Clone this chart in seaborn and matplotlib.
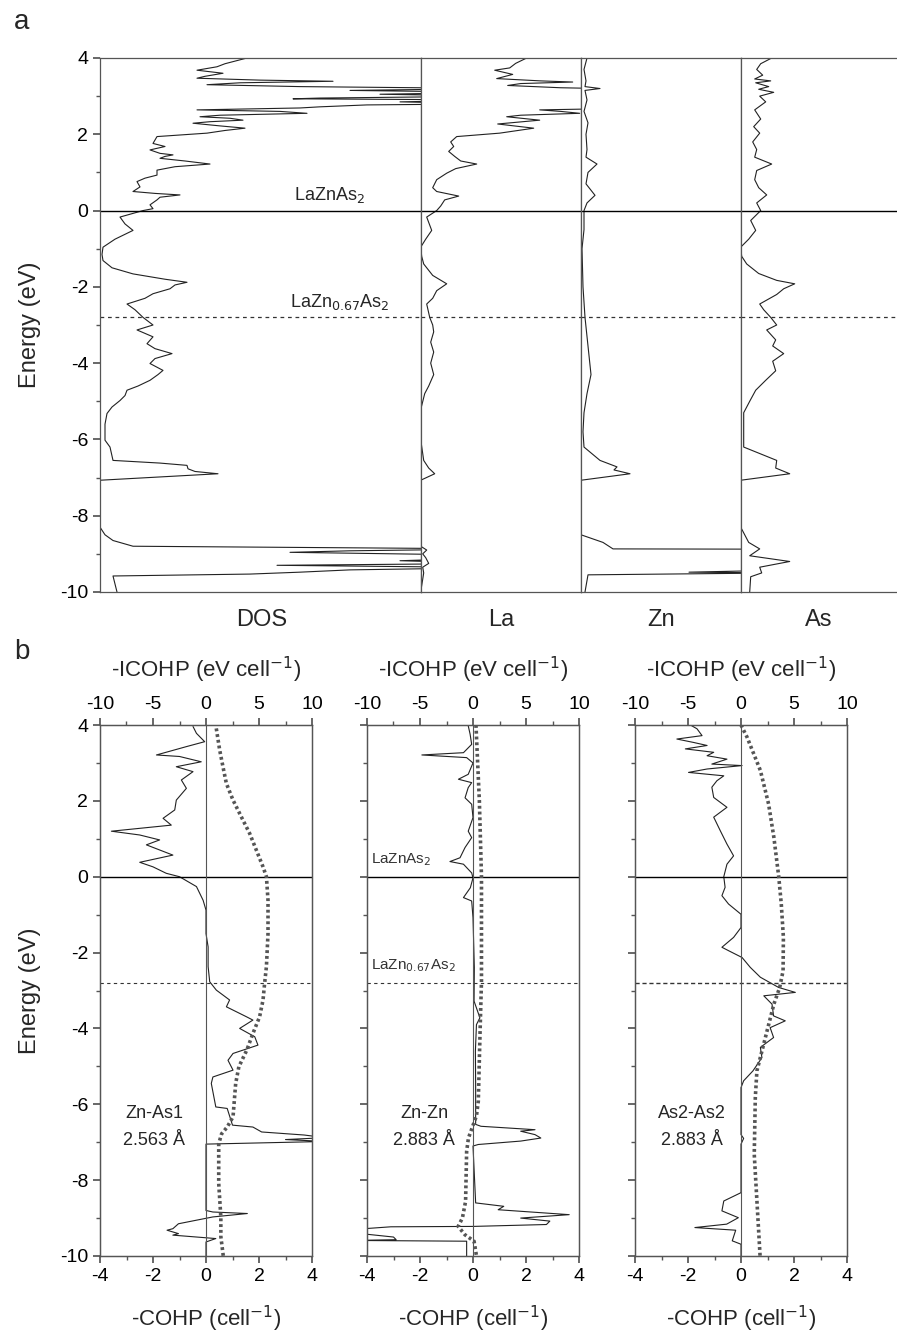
import matplotlib
matplotlib.use("Agg")
import matplotlib.pyplot as plt
import seaborn as sns
from matplotlib.ticker import MultipleLocator

# ---- panel a: total and partial DOS (arbitrary units) ----
dos_e = [4.0, 3.85, 3.77, 3.68, 3.6, 3.52, 3.47, 3.42, 3.39, 3.35, 3.3, 3.25, 3.2, 3.15, 3.1, 3.05,
         3.0, 2.95, 2.93, 2.9, 2.85, 2.8, 2.77, 2.72, 2.69, 2.64, 2.6, 2.55, 2.5, 2.46, 2.42, 2.37,
         2.33, 2.29, 2.22, 2.16, 2.1, 2.03, 1.94, 1.85, 1.76, 1.68, 1.59, 1.5, 1.46, 1.42, 1.37,
         1.3, 1.22, 1.15, 1.06, 0.93, 0.85, 0.76, 0.62, 0.5, 0.45, 0.41, 0.35, 0.28, 0.15, 0.05,
         0.0, -0.17, -0.35, -0.52, -0.75, -0.96, -1.15, -1.31, -1.5, -1.66, -1.8, -1.88, -1.95,
         -2.05, -2.18, -2.3, -2.45, -2.6, -2.8, -3.0, -3.13, -3.31, -3.49, -3.62, -3.75, -3.88,
         -4.01, -4.19, -4.3, -4.45, -4.6, -4.71, -4.85, -4.98, -5.15, -5.32, -5.6, -6.02, -6.2,
         -6.55, -6.62, -6.68, -6.77, -6.84, -6.9, -7.07, -7.5, -8.0, -8.3, -8.5, -8.65, -8.8,
         -8.87, -8.92, -8.96, -9.02, -9.1, -9.18, -9.25, -9.3, -9.36, -9.42, -9.48, -9.53,
         -9.58, -10.0]
dos_total = [14.7, 12.5, 11.7, 9.7, 12.3, 10.5, 9.7, 16, 23.3, 14, 10.7, 20, 40, 25, 40, 28,
             40, 22, 19.3, 40, 30, 40, 26.7, 22, 20, 9.7, 18, 20.7, 12, 10, 13, 14.3,
             11, 9.3, 12, 14.5, 12.5, 10.7, 5.7, 5.5, 5.3, 6.5, 5, 6, 7.3, 6.5, 6,
             8.5, 11, 7.5, 5.7, 5.7, 4.5, 3.7, 4.0, 3.3, 5.5, 8, 6, 5.7, 5.0, 5.3,
             4.3, 2, 2.5, 3.3, 1.5, 0.3, 0.2, 0.3, 1.2, 3.3, 6.5, 8.7, 7.5,
             7, 5.3, 4.5, 2.7, 3.5, 4.3, 5.3, 3.7, 5.3, 4.7, 5.5, 7.2, 5.5,
             5, 6.3, 5.8, 5, 3.8, 2.7, 2.5, 2, 1.2, 0.7, 0.5, 0.5, 1.0,
             1.3, 6, 8.7, 8.8, 9.5, 11.8, 0, 0, 0, 0, 0.5, 1.3, 3.3,
             40, 25, 19, 35, 40, 30, 40, 17.7, 40, 25, 20, 15,
             1.3, 1.7]

la_e = [4.0, 3.86, 3.74, 3.68, 3.57, 3.46, 3.4, 3.37, 3.33, 3.28, 3.22, 3.19, 3.15, 2.9, 2.7,
        2.64, 2.6, 2.55, 2.5, 2.46, 2.37, 2.27, 2.16, 2.03, 1.94, 1.8, 1.68, 1.55, 1.42, 1.3,
        1.22, 1.1, 0.98, 0.81, 0.6, 0.5, 0.38, 0.28, 0.12, 0.0, -0.17, -0.52, -0.75, -0.96,
        -1.2, -1.4, -1.7, -1.92, -2.1, -2.3, -2.45, -2.8, -3.0, -3.18, -3.45, -3.71, -4.0,
        -4.3, -4.6, -4.8, -5.22, -6.0, -6.55, -6.75, -6.9, -7.07, -8.0, -8.8, -8.9, -9.0,
        -9.1, -9.25, -9.35, -9.5, -10.0]
la_pdos = [10.6, 9.5, 8.9, 7.4, 9.2, 7.6, 12, 15.2, 10, 8.7, 14, 20, 25, 25, 25,
           11.9, 14, 15.9, 10, 8.6, 11.9, 7.7, 11.3, 7.9, 3.6, 3.0, 3.3, 2.8, 3.4, 4,
           5.6, 3.5, 2.6, 1.6, 1.2, 1.6, 3.8, 2.4, 2.0, 1.6, 0.6, 1.1, 0.5, 0,
           0.1, 0.3, 1.2, 2.6, 1.6, 1.2, 0.6, 0.9, 1.2, 1.3, 1.0, 1.3, 1.0,
           1.3, 0.8, 0.4, 0, 0, 0.3, 0.8, 1.4, 0, 0, 0, 0.6, 0.2,
           0.5, 0.8, 0.2, 0.3, 0]

zn_e = [4.0, 3.7, 3.4, 3.25, 3.2, 3.15, 2.9, 2.6, 2.3, 2.0, 1.6, 1.4, 1.22, 1.0, 0.7, 0.4,
        0.2, 0.0, -0.5, -1.0, -2.0, -2.8, -3.3, -3.8, -4.3, -4.8, -5.3, -5.8, -6.2, -6.55,
        -6.72, -6.8, -6.9, -7.07, -8.0, -8.5, -8.7, -8.87, -8.88, -9.4, -9.48, -9.5, -9.55,
        -10.0]
zn_pdos = [0.6, 0.3, 0.5, 0.4, 1.9, 0.4, 0.6, 0.3, 0.7, 0.5, 0.6, 0.5, 1.6, 0.7, 0.5, 1.4,
           0.6, 0.3, 0.3, 0.1, 0.2, 0.4, 0.6, 0.8, 1.0, 0.6, 0.3, 0.2, 0.3, 1.9,
           3.6, 3.3, 4.9, 0, 0, 0, 2.2, 3.2, 25, 25, 10.8, 20, 0.7,
           0.4]

as_e = [4.0, 3.85, 3.7, 3.55, 3.45, 3.4, 3.35, 3.25, 3.18, 3.1, 3.0, 2.85, 2.64, 2.4, 2.2,
        2.03, 1.8, 1.6, 1.4, 1.22, 1.05, 0.81, 0.6, 0.41, 0.2, 0.0, -0.26, -0.52, -0.75,
        -0.96, -1.2, -1.4, -1.65, -1.83, -1.92, -2.05, -2.2, -2.45, -2.6, -2.8, -3.0, -3.13,
        -3.39, -3.55, -3.75, -3.95, -4.2, -4.45, -4.71, -5.0, -5.3, -6.2, -6.55, -6.75,
        -6.9, -7.07, -8.3, -8.7, -8.87, -9.05, -9.2, -9.35, -9.5, -9.6, -10.0]
as_pdos = [3.1, 2.0, 1.6, 2.2, 1.4, 3.0, 1.5, 2.8, 1.8, 3.3, 1.9, 2.5, 1.4, 2.0, 1.3,
           1.9, 1.2, 1.6, 1.4, 3.1, 1.6, 1.4, 1.8, 2.6, 1.6, 2.0, 1.0, 1.5, 0.8,
           0, 0.1, 0.6, 1.8, 3.6, 5.4, 4.3, 3.6, 1.9, 2.3, 3.0, 3.6, 2.6,
           3.5, 3.2, 4.3, 3.2, 3.5, 2.5, 1.5, 0.9, 0.3, 0.3, 3.6, 3.5,
           4.9, 0, 0, 0.8, 1.9, 0.9, 4.9, 1.9, 2.1, 1.0, 0.9]

dos_labels = ["DOS", "La", "Zn", "As"]

# ---- panel b: -COHP (bottom axis) and -ICOHP (top axis) ----
znas_e = [3.96, 3.78, 3.56, 3.43, 3.21, 3.17, 3.03, 2.9, 2.77, 2.55, 2.33, 2.02, 1.76, 1.54,
          1.36, 1.2, 1.1, 0.97, 0.84, 0.57, 0.38, 0.26, 0.09, 0.0, -0.26, -0.62, -0.88, -1.5,
          -1.85, -2.37, -2.77, -2.99, -3.25, -3.43, -3.69, -3.78, -4.0, -4.22, -4.44, -4.66,
          -4.84, -5.1, -5.28, -5.45, -6.07, -6.11, -6.55, -6.6, -6.73, -6.81, -6.88, -6.93,
          -6.98, -7.05, -8.8, -8.84, -8.88, -8.97, -9.06, -9.15, -9.28, -9.32, -9.41, -9.45,
          -9.54, -9.63, -10.0]
znas_cohp = [-0.49, -0.36, -0.05, -0.74, -1.87, -1.0, -0.18, -1.12, -0.49, -0.93, -0.74, -1.12,
             -1.18, -1.62, -1.31, -3.57, -2.5, -1.75, -2.25, -1.25, -2.5, -2.0, -1.5, -1.0,
             -0.36, -0.11, 0.0, 0.0, 0.08, 0.08, 0.14, 0.39, 0.89, 0.77, 1.52, 1.77, 1.27,
             1.84, 1.96, 1.02, 0.83, 1.02, 0.26, 0.2, 0.37, 0.8, 1.0, 1.77, 2.1, 3.7, 4.5,
             3.0, 4.5, 0.0, 0.0, 0.26, 1.56, 0.26, -0.39, -1.04, -1.25, -1.47, -1.04, -1.25,
             0.37, 0.0, 0.0]
znas_icohp_e = [3.91, 3.34, 2.9, 2.46, 2.02, 1.58, 1.14, 0.7, 0.26, 0.0, -0.62, -1.5, -2.37,
                -2.81, -3.25, -3.69, -4.13, -4.57, -5.01, -5.45, -6.33, -6.6, -6.78, -7.04,
                -8.09, -8.97, -9.49, -10.0]
znas_icohp = [0.97, 1.29, 1.6, 1.92, 2.55, 3.33, 4.12, 4.75, 5.38, 5.7, 5.85, 5.85, 5.7,
              5.53, 5.38, 5.06, 4.43, 3.85, 3.1, 2.8, 2.55, 2.0, 1.47, 1.2,
              1.2, 1.4, 1.4, 1.63]

znzn_e = [3.98, 3.76, 3.49, 3.27, 3.21, 3.14, 3.0, 2.7, 2.57, 2.48, 2.35, 2.08, 1.91, 1.56,
          1.2, 1.03, 0.77, 0.5, 0.4, 0.33, 0.1, -0.03, -0.29, -0.55, -0.64, -1.08, -2.4,
          -3.28, -3.72, -3.9, -4.6, -5.5, -6.53, -6.58, -6.67, -6.71, -6.8, -6.89, -6.97,
          -7.06, -7.1, -8.6, -8.69, -8.78, -8.91, -9.0, -9.08, -9.17, -9.22, -9.23, -9.3,
          -9.39, -9.5, -9.57, -9.59, -9.61, -10.0]
znzn_cohp = [-0.18, -0.11, -0.05, -0.36, -1.93, -0.24, 0.0, -0.18, -0.55, -0.05, -0.18, -0.3,
             -0.05, 0.0, -0.18, -0.05, -0.3, -0.49, -0.87, -0.36, -0.05, 0.0, -0.1, -0.36,
             -0.05, 0.0, 0.05, 0.04, 0.26, 0.13, 0.09, 0.1, 0.1, 0.3, 2.34, 1.8, 2.34, 2.56,
             1.8, 0.2, 0.0, 0.1, 1.16, 0.95, 3.63, 1.8, 2.9, 2.77, 0.0, -3.1, -4.5, -4.5,
             -3.0, -2.9, -4.5, -0.24, -0.24]
znzn_icohp_e = [4.0, 2.0, 0.0, -1.52, -2.75, -4.16, -5.92, -6.3, -6.89, -7.24, -8.56, -9.0,
                -9.22, -9.44, -9.61, -10.0]
znzn_icohp = [0.28, 0.6, 0.8, 0.8, 0.8, 0.66, 0.5, 0.33, -0.43, -0.6, -0.7, -1.0,
              -1.4, -0.76, 0.1, 0.33]

asas_e = [4.0, 3.9, 3.72, 3.63, 3.54, 3.46, 3.37, 3.28, 3.19, 3.1, 2.97, 2.93, 2.84, 2.75,
          2.66, 2.53, 2.36, 2.09, 1.83, 1.57, 1.21, 0.86, 0.55, 0.33, 0.0, -0.28, -0.5,
          -0.72, -0.99, -1.34, -1.6, -1.86, -1.95, -2.13, -2.39, -2.65, -2.92, -3.05, -3.14,
          -3.36, -3.67, -3.8, -3.98, -4.24, -4.5, -4.77, -5.12, -5.38, -5.56, -6.8, -6.9,
          -7.05, -8.33, -8.55, -8.81, -8.99, -9.16, -9.25, -9.32, -9.6, -9.69, -10.0]
asas_cohp = [-1.91, -1.66, -1.47, -2.42, -1.79, -1.28, -2.1, -1.03, -1.28, -0.53, -1.1, 0.04,
             -1.28, -1.98, -0.65, -0.91, -1.1, -1.03, -0.53, -1.03, -0.78, -0.53, -0.28,
             -0.53, -0.65, -0.6, -0.72, -0.47, 0.0, 0.0, -0.28, -0.72, -0.47, 0.04, 0.35,
             0.73, 1.42, 2.05, 0.86, 1.17, 1.23, 1.67, 1.1, 1.23, 0.73, 0.79, 0.45, 0.1, 0.0,
             0.0, 0.1, 0.0, 0.0, -0.65, -0.72, -0.1, -0.54, -1.74, -0.2, -0.33, 0.0, 0.0]
asas_icohp_e = [4.0, 3.68, 3.24, 2.8, 1.92, 1.04, 0.0, -0.72, -1.6, -2.48, -2.92, -3.36,
                -4.24, -5.12, -5.82, -7.32, -10.0]
asas_icohp = [0.0, 0.57, 1.2, 1.83, 2.6, 3.1, 3.56, 3.8, 4.0, 3.97, 3.65, 3.1,
              2.3, 1.5, 1.35, 1.25, 1.8]

bond_names = ["Zn-As1\n2.563 Å", "Zn-Zn\n2.883 Å", "As2-As2\n2.883 Å"]
e_fermi_full = 0.0
e_fermi_def = -2.8

W, H = 897, 1343
sns.set_theme(style="ticks")
plt.rcParams["font.family"] = ["Liberation Sans", "DejaVu Sans"]
plt.rcParams["axes.unicode_minus"] = False
plt.rcParams["axes.edgecolor"] = "#555555"
plt.rcParams["axes.linewidth"] = 0.9
plt.rcParams["xtick.color"] = "#555555"
plt.rcParams["ytick.color"] = "#555555"
plt.rcParams["xtick.labelcolor"] = "black"
plt.rcParams["ytick.labelcolor"] = "black"

fig = plt.figure(figsize=(W / 100, H / 100), dpi=100)


def box(x0, y0, x1, y1):
    return [x0 / W, 1 - y1 / H, (x1 - x0) / W, (y1 - y0) / H]


def trace(ax, xv, ev, **kw):
    sns.lineplot(x=xv, y=ev, sort=False, estimator=None, ax=ax, legend=False, **kw)


line_kw = dict(color="#222222", linewidth=0.8)

# ---------------- panel a ----------------
a_cols = [(100, 420.7), (420.7, 581), (581, 740.7), (740.7, 897)]
a_data = [(dos_total, dos_e), (la_pdos, la_e), (zn_pdos, zn_e), (as_pdos, as_e)]
for i, ((x0, x1), (vals, ev)) in enumerate(zip(a_cols, a_data)):
    ax = fig.add_axes(box(x0, 58, x1, 592))
    trace(ax, vals, ev, **line_kw)
    ax.set_xlim(0, (x1 - x0) / 10)
    ax.set_ylim(-10, 4)
    ax.axhline(e_fermi_full, color="black", linewidth=1.0)
    ax.axhline(e_fermi_def, color="#333333", linewidth=0.9, linestyle=(0, (3, 3)))
    ax.set_xticks([])
    ax.set_xlabel("")
    ax.set_ylabel("")
    if i == 0:
        ax.yaxis.set_major_locator(MultipleLocator(2))
        ax.yaxis.set_minor_locator(MultipleLocator(1))
        ax.tick_params(axis="y", which="major", length=5, labelsize=14, direction="out")
        ax.tick_params(axis="y", which="minor", length=3, direction="out")
        ax.set_ylabel("Energy (eV)", fontsize=17, labelpad=14)
        ax.text(22.9, 0.15, "LaZnAs$_2$", ha="center", va="bottom", fontsize=13)
        ax.text(24.0, -2.65, "LaZn$_{0.67}$As$_2$", ha="center", va="bottom", fontsize=13)
    else:
        ax.set_yticks([])
    if i == 3:
        ax.spines["right"].set_visible(False)
    fig.text(((x0 + x1) / 2 if i else 262) / W, 1 - 620 / H, dos_labels[i],
             ha="center", va="center", fontsize=17)

fig.text(22 / W, 1 - 22 / H, "a", ha="center", va="center", fontsize=20)
fig.text(22 / W, 1 - 652 / H, "b", ha="center", va="center", fontsize=20)

# ---------------- panel b ----------------
b_cols = [(100, 312), (367, 579), (635, 847)]
b_data = [(znas_cohp, znas_e, znas_icohp, znas_icohp_e),
          (znzn_cohp, znzn_e, znzn_icohp, znzn_icohp_e),
          (asas_cohp, asas_e, asas_icohp, asas_icohp_e)]
for i, ((x0, x1), (cv, ce, iv, ie)) in enumerate(zip(b_cols, b_data)):
    ax = fig.add_axes(box(x0, 725, x1, 1256))
    trace(ax, cv, ce, **line_kw)
    ax.set_xlim(-4, 4)
    ax.set_ylim(-10, 4)
    ax.axhline(e_fermi_full, color="black", linewidth=1.0)
    dash = (0, (3, 2)) if i == 2 else (0, (3, 3))
    ax.axhline(e_fermi_def, color="#333333", linewidth=1.0 if i == 2 else 0.8, linestyle=dash)
    ax.axvline(0, color="#555555", linewidth=0.8)
    ax.xaxis.set_major_locator(MultipleLocator(2))
    ax.xaxis.set_minor_locator(MultipleLocator(1))
    ax.yaxis.set_major_locator(MultipleLocator(2))
    ax.yaxis.set_minor_locator(MultipleLocator(1))
    ax.tick_params(which="major", length=5, labelsize=14, direction="out")
    ax.tick_params(which="minor", length=3, direction="out")
    ax.set_xlabel("-COHP (cell$^{-1}$)", fontsize=16, labelpad=14)
    ax.set_ylabel("")
    if i == 0:
        ax.set_ylabel("Energy (eV)", fontsize=17, labelpad=14)
    else:
        ax.tick_params(axis="y", labelleft=False)
    name, dist = bond_names[i].split("\n")
    ax.text(-1.95 if i == 0 else -1.85, -6.25, name, ha="center", va="center", fontsize=13)
    ax.text(-1.95 if i == 0 else -1.85, -6.95, dist, ha="center", va="center", fontsize=13)
    if i == 1:
        ax.text(-3.85, 0.45, "LaZnAs$_2$", ha="left", va="center", fontsize=11, color="#333333")
        ax.text(-3.85, -2.35, "LaZn$_{0.67}$As$_2$", ha="left", va="center", fontsize=11,
                color="#333333")

    axt = ax.twiny()
    trace(axt, iv, ie, color="#555555", linewidth=2.6, linestyle=(0, (0.8, 0.8)))
    axt.set_xlim(-10, 10)
    axt.set_ylim(-10, 4)
    axt.xaxis.set_major_locator(MultipleLocator(5))
    axt.xaxis.set_minor_locator(MultipleLocator(2.5))
    axt.tick_params(which="major", length=5, labelsize=14, direction="out")
    axt.tick_params(which="minor", length=3, direction="out")
    axt.set_xlabel("-ICOHP (eV cell$^{-1}$)", fontsize=16, labelpad=14)
    axt.set_ylabel("")

fig.savefig("out.png", dpi=100)
